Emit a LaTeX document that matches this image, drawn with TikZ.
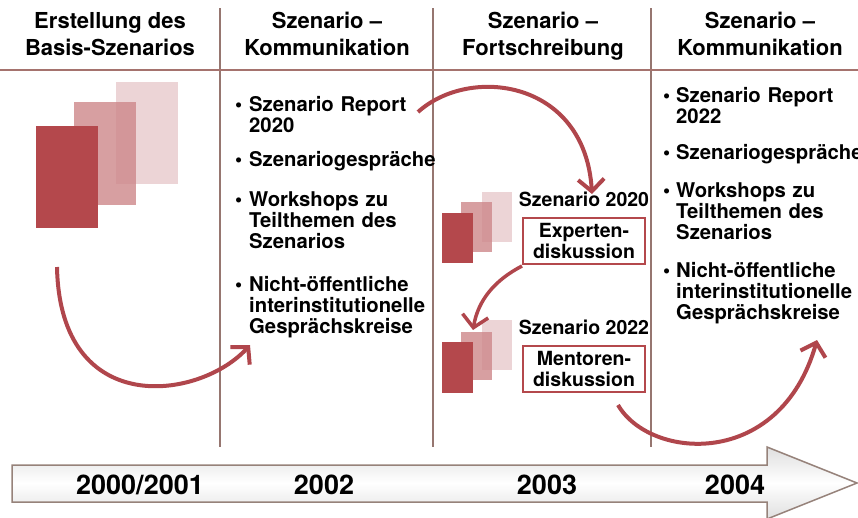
\documentclass[tikz,border=0pt]{standalone}
\usepackage{fontspec}
\setmainfont{TeX Gyre Heros}
\usetikzlibrary{positioning,arrows.meta}

\definecolor{darkred}{RGB}{180, 72, 76}
\definecolor{midred}{RGB}{205, 135, 138}
\definecolor{lightred}{RGB}{236, 212, 214}
\definecolor{arccol}{RGB}{176, 70, 76}
\definecolor{rulecol}{RGB}{165, 115, 110}
\definecolor{gridcol}{RGB}{150, 118, 112}
\definecolor{tlcol}{RGB}{150, 130, 122}

\begin{document}
\begin{tikzpicture}[x=1pt, y=-1pt,
    head/.style={anchor=north, align=center, inner sep=0pt, font=\fontsize{22}{27}\selectfont\bfseries},
    listitem/.style={anchor=base west, text width=200pt, align=left, inner sep=0pt, font=\fontsize{20.3}{21}\selectfont\bfseries},
    disklabel/.style={inner sep=0pt, font=\fontsize{19.5}{21.5}\selectfont\bfseries},
    diskbox/.style={draw=darkred, line width=1.5pt, align=center, minimum width=122pt, minimum height=46pt, inner sep=1pt, font=\fontsize{19.5}{21.5}\selectfont\bfseries},
    flow/.style={draw=arccol, line width=4pt, -{Straight Barb[length=12pt, width=26pt]}},
    year/.style={anchor=base, inner sep=0pt, font=\fontsize{27}{30}\selectfont\bfseries}]
    \useasboundingbox (0,0) rectangle (858,517);

    % Timeline arrow at the bottom
    \shade[top color=gray!25, bottom color=gray!25, middle color=white, draw=tlcol, line width=1.5pt]
        (12,465) -- (767,465) -- (767,447) -- (857,483) -- (767,519) -- (767,502) -- (12,502) -- cycle;

    % Column rules
    \foreach \x in {220,433,651}
        \draw[gridcol, line width=1.2pt] (\x,8) -- (\x,447);
    \draw[rulecol, line width=1.6pt] (0,70) -- (858,70);

    % Headers
    \node[head] (h1) at (110,12) {Erstellung des\\Basis-Szenarios};
    \node[head] (h2) at (327,12) {Szenario --\\Kommunikation};
    \node[head] (h3) at (543,12) {Szenario --\\Fortschreibung};
    \node[head] (h4) at (760,12) {Szenario --\\Kommunikation};

    % Basis scenario: three sheets
    \fill[lightred] (116,82) rectangle (178,184);
    \fill[midred, opacity=0.8] (74,102) rectangle (136,205);
    \fill[darkred] (36,126) rectangle (98,228);

    % Communication 2002
    \node[listitem] (k1) at (249,111) {\llap{\textbullet\hspace{7pt}}Szenario Report\\2020};
    \node[listitem] (k2) at (249,166) {\llap{\textbullet\hspace{7pt}}Szenariogespräche};
    \node[listitem] (k3) at (249,206) {\llap{\textbullet\hspace{7pt}}Workshops zu\\Teilthemen des\\Szenarios};
    \node[listitem] (k4) at (249,291) {\llap{\textbullet\hspace{7pt}}Nicht-öffentliche\\interinstitutionelle\\Gesprächskreise};

    % Update 2003: two small sheet stacks
    \fill[lightred] (482,192) rectangle (512,242);
    \fill[midred, opacity=0.8] (461,202) rectangle (492,252);
    \fill[darkred] (442,213) rectangle (473,263);

    \fill[lightred] (482,320) rectangle (512,370);
    \fill[midred, opacity=0.8] (461,332) rectangle (492,380);
    \fill[darkred] (442,342) rectangle (473,393);

    \node[diskbox] (exp) at (584,241) {Experten-\\diskussion};
    \node[disklabel, above=10pt of exp] (s20) {Szenario 2020};
    \node[diskbox] (men) at (584,369) {Mentoren-\\diskussion};
    \node[disklabel, above=10pt of men] (s22) {Szenario 2022};

    % Communication 2004
    \node[listitem] (m1) at (676,102) {\llap{\textbullet\hspace{6pt}}Szenario Report\\2022};
    \node[listitem] (m2) at (676,159) {\llap{\textbullet\hspace{6pt}}Szenariogespräche};
    \node[listitem] (m3) at (676,197) {\llap{\textbullet\hspace{6pt}}Workshops zu\\Teilthemen des\\Szenarios};
    \node[listitem] (m4) at (676,277) {\llap{\textbullet\hspace{6pt}}Nicht-öffentliche\\interinstitutionelle\\Gesprächskreise};

    % Flow arcs
    \coordinate (a1s) at (57,267);
    \coordinate (a1e) at (250,345);
    \coordinate (a2s) at (418,112);
    \coordinate (a2e) at (592,194);
    \coordinate (a3s) at (522,266);
    \coordinate (a3e) at (473,330);
    \coordinate (a4s) at (618,405);
    \coordinate (a4e) at (817,340);
    \draw[flow] (a1s) .. controls (60,420) and (200,400) .. (a1e);
    \draw[flow] (a2s) .. controls (470,65) and (585,80) .. (a2e);
    \draw[flow, line width=3.5pt] (a3s) .. controls (495,280) and (478,300) .. (a3e);
    \draw[flow] (a4s) .. controls (650,460) and (780,470) .. (a4e);

    % Years
    \node[year] (y1) at (140,494) {2000/2001};
    \node[year] (y2) at (324,494) {2002};
    \node[year] (y3) at (547,494) {2003};
    \node[year] (y4) at (735,494) {2004};
\end{tikzpicture}
\end{document}
